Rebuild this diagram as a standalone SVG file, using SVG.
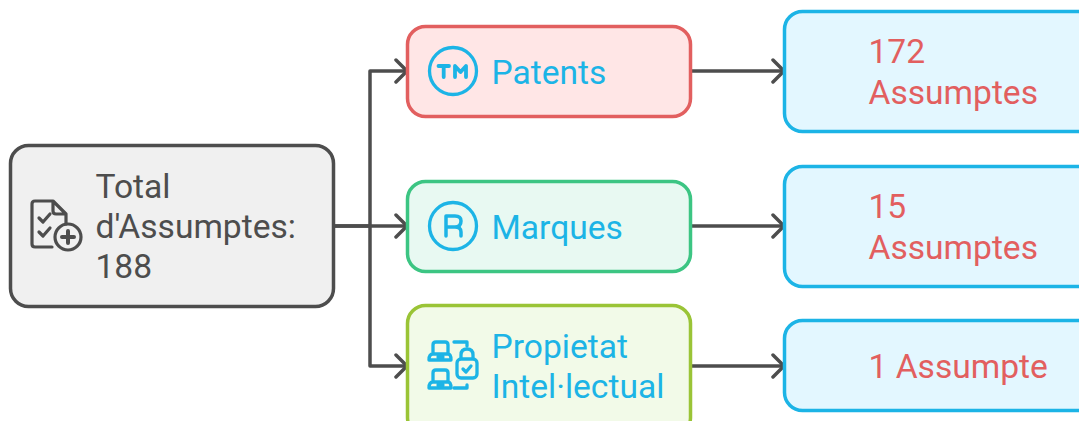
<svg xmlns="http://www.w3.org/2000/svg" width="1079" height="421" viewBox="0 0 1079 421">
<defs>
<marker id="arrow" markerUnits="userSpaceOnUse" markerWidth="16" markerHeight="26" refX="14" refY="13" orient="auto"><path d="M3 2 L14 13 L3 24" fill="none" stroke="#4d4d4d" stroke-width="3.500" stroke-linecap="round" stroke-linejoin="round"/></marker>
</defs>
<style>
text{font-family:Roboto,"Liberation Sans",sans-serif;font-size:33.6px}
.conn{fill:none;stroke:#4d4d4d;stroke-width:3.500;stroke-linejoin:round}
.n{stroke-width:3.500}
.g{fill:#4d4d4d}.b{fill:#1cb4e6}.r{fill:#e25f5f}
.ig{fill:none;stroke:#4d4d4d;stroke-width:3.200;stroke-linecap:round;stroke-linejoin:round}
.ib{fill:none;stroke:#1cb4e6;stroke-width:3.300;stroke-linecap:round;stroke-linejoin:round}
.res{fill:#e3f7ff;stroke:#1cb4e6;stroke-width:3.500}
</style>
<rect width="1079" height="421" fill="#fff"/>
<g id="connectors">
<path class="conn" d="M334 226 H370 V71 H407" marker-end="url(#arrow)"/>
<path class="conn" d="M334 226 H407" marker-end="url(#arrow)"/>
<path class="conn" d="M370 226 V366 H407" marker-end="url(#arrow)"/>
<path class="conn" d="M690 71 H784" marker-end="url(#arrow)"/>
<path class="conn" d="M690 226 H784" marker-end="url(#arrow)"/>
<path class="conn" d="M690 366 H784" marker-end="url(#arrow)"/>
</g>
<g id="node-total">
<rect class="n" x="10.500" y="145.500" width="323" height="161" rx="18" fill="#f0f0f0" stroke="#4d4d4d"/>
<path class="ig" d="M52 247 H35 Q32 247 32 244 V204 Q32 201 35 201 H53 L66 214 V224 M53 201 V211 Q53 214 56 214 H66"/>
<path class="ig" d="M39 218 L43 222 L50 214 M39 232 L43 236 L50 228"/>
<circle class="ig" cx="68" cy="237" r="13"/>
<path class="ig" d="M68 231 V243 M62 237 H74" style="stroke-width:4"/>
<text class="g" x="95.500" y="197.700">Total</text>
<text class="g" x="95.500" y="237.700">d'Assumptes:</text>
<text class="g" x="95.500" y="277.700">188</text>
</g>
<g id="node-patents">
<rect class="n" x="407.500" y="26.500" width="283" height="90" rx="18" fill="#ffe6e6" stroke="#e25f5f"/>
<circle class="ib" cx="453" cy="71" r="23.500"/>
<path class="ib" d="M438.500 66 H449 M443.700 66 V77 M455 77 V66 L460.500 72 L466 66 V77" style="stroke-width:3.800"/>
<text class="b" x="491.500" y="83.700">Patents</text>
</g>
<g id="node-marques">
<rect class="n" x="407.500" y="181.500" width="283" height="90" rx="18" fill="#e8f9f2" stroke="#3cc583"/>
<circle class="ib" cx="453" cy="226" r="23.500"/>
<path class="ib" d="M446 236 V216 H455 Q461 216 461 221 Q461 227 455 227 H446 M455 227 Q461 227 461 232 V236" style="stroke-width:3.500"/>
<text class="b" x="491.500" y="238.700">Marques</text>
</g>
<g id="node-propietat">
<rect class="n" x="407.500" y="305.500" width="283" height="130" rx="18" fill="#f2fae8" stroke="#9ac436"/>
<path class="ib" d="M433 353 V345 Q433 342 436 342 H445 Q448 342 448 345 V353 M429 360 Q429 354 433 354 H448 Q451 354 451 360 Z M438 357 H443"/>
<path class="ib" d="M433 381 V373 Q433 370 436 370 H445 Q448 370 448 373 V381 M429 388 Q429 382 433 382 H448 Q451 382 451 388 Z M438 385 H443"/>
<path class="ib" d="M454 342 H467 V346 M454 388 H467 V385"/>
<rect class="ib" x="457" y="359" width="20" height="19" rx="4"/>
<path class="ib" d="M461 358 V355 Q461 349 467 349 Q473 349 473 355 V358 M463 369 L466 372 L471 366"/>
<text class="b" x="491.500" y="357.700">Propietat</text>
<text class="b" x="491.500" y="397.700">Intel·lectual</text>
</g>
<g id="node-172">
<rect class="res" x="784.500" y="11.500" width="320" height="120" rx="18"/>
<text class="r" x="868.500" y="62.700">172</text>
<text class="r" x="868.500" y="103.700">Assumptes</text>
</g>
<g id="node-15">
<rect class="res" x="784.500" y="166.500" width="320" height="120" rx="18"/>
<text class="r" x="868.500" y="217.700">15</text>
<text class="r" x="868.500" y="258.700">Assumptes</text>
</g>
<g id="node-1">
<rect class="res" x="784.500" y="320.500" width="320" height="90" rx="18"/>
<text class="r" x="868.500" y="377.700">1 Assumpte</text>
</g>
</svg>
